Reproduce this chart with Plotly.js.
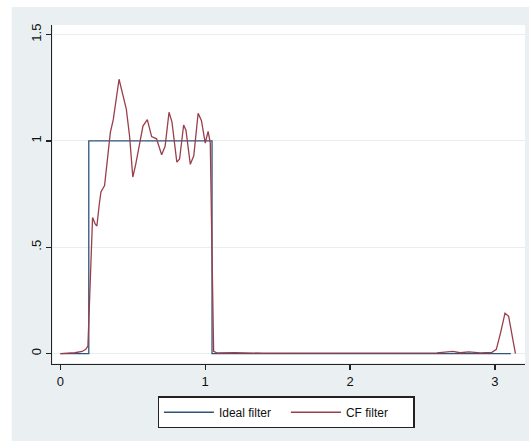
<!DOCTYPE html>
<html>
<head>
<meta charset="utf-8">
<script src="https://cdn.plot.ly/plotly-3.0.1.min.js"></script>
<style>html,body{margin:0;padding:0;background:#fff;}#chart{width:529px;height:441px;}</style>
</head>
<body>
<div id="chart"></div>
<script>
// Ideal band-pass filter (pass band between 2*pi/32 and 2*pi/6)
const idealX = [0, 0.196, 0.196, 1.047, 1.047, 3.11];
const idealY = [0, 0, 1, 1, 0, 0];

// CF filter gain
const cfX = [0, 0.05, 0.1, 0.15, 0.175, 0.19, 0.205, 0.222, 0.24, 0.252, 0.268, 0.28, 0.305, 0.325,
  0.345, 0.365, 0.385, 0.405, 0.43, 0.455, 0.478, 0.50, 0.52, 0.545, 0.57, 0.60, 0.63, 0.664,
  0.699, 0.723, 0.75, 0.77, 0.804, 0.823, 0.851, 0.867, 0.897, 0.921, 0.951, 0.974, 1.0, 1.02,
  1.035, 1.045, 1.058, 1.08, 1.2, 1.4, 1.7, 2.0, 2.3, 2.4, 2.6, 2.71, 2.76, 2.82, 2.9, 2.98,
  3.01, 3.04, 3.07, 3.095, 3.142];
const cfY = [0, 0.002, 0.004, 0.01, 0.02, 0.035, 0.35, 0.64, 0.61, 0.60, 0.70, 0.76, 0.79, 0.92,
  1.04, 1.10, 1.20, 1.29, 1.22, 1.15, 1.02, 0.83, 0.89, 0.98, 1.07, 1.10, 1.02, 1.01,
  0.935, 0.975, 1.135, 1.09, 0.90, 0.915, 1.075, 1.05, 0.89, 0.93, 1.13, 1.095, 0.99, 1.045,
  0.99, 0.55, 0.01, 0.003, 0.004, 0.002, 0.002, 0.002, 0.003, 0.004, 0.003, 0.01, 0.004, 0.008, 0.003, 0.006,
  0.02, 0.10, 0.19, 0.175, 0];

const xTicks = [0, 1, 2, 3];
const xTickText = ['0', '1', '2', '3'];
const yTicks = [0, 0.5, 1, 1.5];
const yTickText = ['0', '.5', '1', '1.5'];
const seriesNames = ['Ideal filter', 'CF filter'];

const font = {family: 'Liberation Sans, Arial, sans-serif', size: 12, color: '#111'};

const traces = [
  {x: idealX, y: idealY, type: 'scatter', mode: 'lines', name: seriesNames[0],
   line: {color: '#2f5479', width: 1.3}},
  {x: cfX, y: cfY, type: 'scatter', mode: 'lines', name: seriesNames[1],
   line: {color: '#9a3e4c', width: 1.3}}
];

const layout = {
  width: 529, height: 441,
  margin: {l: 52, r: 4, t: 25, b: 76.5},
  paper_bgcolor: '#ffffff',
  plot_bgcolor: '#ffffff',
  font: font,
  showlegend: true,
  shapes: [
    {type: 'rect', xref: 'paper', yref: 'paper', x0: -0.0853, x1: 1.05, y0: -0.3, y1: 1.053,
     fillcolor: '#eaf0f2', line: {width: 0}, layer: 'below'},
    {type: 'rect', xref: 'paper', yref: 'paper', x0: 0.002, x1: 1.0, y0: 0.003, y1: 1.0,
     fillcolor: '#ffffff', line: {width: 0}, layer: 'below'}
  ],
  xaxis: {
    range: [-0.058, 3.208], tickvals: xTicks, ticktext: xTickText,
    showline: true, linecolor: '#222', linewidth: 1,
    ticks: 'outside', ticklen: 5, tickcolor: '#222', tickwidth: 1.3,
    showgrid: false, zeroline: false, tickfont: {size: 13}
  },
  yaxis: {
    range: [-0.049, 1.545], tickvals: yTicks, ticktext: yTickText,
    showline: true, linecolor: '#222', linewidth: 1,
    ticks: 'outside', ticklen: 5, tickcolor: '#222', tickwidth: 1.3,
    showgrid: true, gridcolor: '#e6eef0', gridwidth: 1, zeroline: false,
    tickangle: -90, tickfont: {size: 13}
  },
  legend: {
    orientation: 'h', x: 0.495, xanchor: 'center', y: -0.0957, yanchor: 'top',
    bgcolor: '#ffffff', bordercolor: '#222', borderwidth: 1.3,
    font: {size: 12}, itemwidth: 50, entrywidth: 62, entrywidthmode: 'pixels',
    tracegroupgap: 0
  }
};

Plotly.newPlot('chart', traces, layout, {displayModeBar: false, staticPlot: true});
</script>
</body>
</html>
